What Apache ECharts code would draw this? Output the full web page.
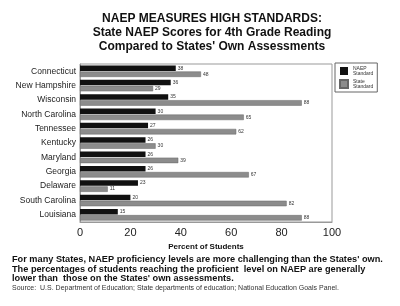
<!DOCTYPE html>
<html>
<head>
<meta charset="utf-8">
<script src="https://cdn.jsdelivr.net/npm/echarts@6/dist/echarts.min.js"></script>
<style>
  html, body { margin: 0; padding: 0; background: #fff; }
  #chart { width: 400px; height: 306px; }
</style>
</head>
<body>
<div id="chart"></div>
<script>
var states = ['Connecticut', 'New Hampshire', 'Wisconsin', 'North Carolina', 'Tennessee',
    'Kentucky', 'Maryland', 'Georgia', 'Delaware', 'South Carolina', 'Louisiana'];
var naep = [38, 36, 35, 30, 27, 26, 26, 26, 23, 20, 15];
var stateStd = [48, 29, 88, 65, 62, 30, 39, 67, 11, 82, 88];
var xTicks = [0, 20, 40, 60, 80, 100];

var myChart = echarts.init(document.getElementById('chart'));
var font = 'Liberation Sans, Arial, sans-serif';

var option = {
    animation: false,
    backgroundColor: '#fff',
    title: [{
        text: 'NAEP MEASURES HIGH STANDARDS:\nState NAEP Scores for 4th Grade Reading\nCompared to States\' Own Assessments',
        left: 207,
        top: 7,
        textAlign: 'center',
        textStyle: { fontFamily: font, fontSize: 12, fontWeight: 'bold', color: '#111', lineHeight: 14 }
    }, {
        text: 'For many States, NAEP proficiency levels are more challenging than the States\' own.\nThe percentages of students reaching the proficient  level on NAEP are generally\nlower than  those on the States\' own assessments.',
        left: 7,
        top: 250,
        textStyle: { fontFamily: font, fontSize: 9.2, fontWeight: 'bold', color: '#111', lineHeight: 9.5 }
    }, {
        text: 'Source:  U.S. Department of Education; State departments of education; National Education Goals Panel.',
        left: 7,
        top: 280,
        textStyle: { fontFamily: font, fontSize: 7, fontWeight: 'normal', color: '#333' }
    }],
    legend: {
        orient: 'vertical',
        left: 335,
        top: 63,
        padding: [3, 4, 3, 4],
        itemGap: 3,
        itemWidth: 8,
        itemHeight: 8,
        icon: 'rect',
        borderColor: '#666',
        borderWidth: 1,
        borderRadius: 0,
        textStyle: { fontFamily: font, fontSize: 5, color: '#333', lineHeight: 5 },
        data: ['NAEP\nStandard', 'State\nStandard']
    },
    grid: { left: 80, right: 68, top: 64, bottom: 84, containLabel: false },
    xAxis: {
        type: 'value',
        min: 0,
        max: 100,
        interval: 20,
        name: 'Percent of Students',
        nameLocation: 'middle',
        nameGap: 18,
        nameTextStyle: { fontFamily: font, fontSize: 8, fontWeight: 'bold', color: '#111' },
        axisLine: { show: true, lineStyle: { color: '#999' } },
        axisTick: { show: false },
        splitLine: { show: false },
        axisLabel: {
            fontFamily: font, fontSize: 11, color: '#222', margin: 5,
            formatter: function (v) { return xTicks.indexOf(v) >= 0 ? String(v) : ''; }
        }
    },
    yAxis: {
        type: 'category',
        inverse: true,
        data: states,
        axisLine: { show: true, lineStyle: { color: '#999' } },
        axisTick: { show: false },
        axisLabel: { fontFamily: font, fontSize: 8.5, color: '#222', margin: 4 }
    },
    series: [{
        name: 'NAEP\nStandard',
        type: 'bar',
        data: naep,
        barWidth: 5.5,
        barGap: '10%',
        itemStyle: { color: '#111' },
        label: { show: true, position: 'right', distance: 2, fontSize: 5, fontFamily: font, color: '#333' }
    }, {
        name: 'State\nStandard',
        type: 'bar',
        data: stateStd,
        barWidth: 5.5,
        itemStyle: { color: '#8c8c8c', borderColor: '#666', borderWidth: 0.5 },
        label: { show: true, position: 'right', distance: 2, fontSize: 5, fontFamily: font, color: '#333' }
    }],
    // frame round the plot area
    graphic: [{
        type: 'rect',
        shape: { x: 80, y: 64, width: 252, height: 158 },
        style: { fill: 'none', stroke: '#999', lineWidth: 1 },
        silent: true
    }]
};

myChart.setOption(option);
</script>
</body>
</html>
